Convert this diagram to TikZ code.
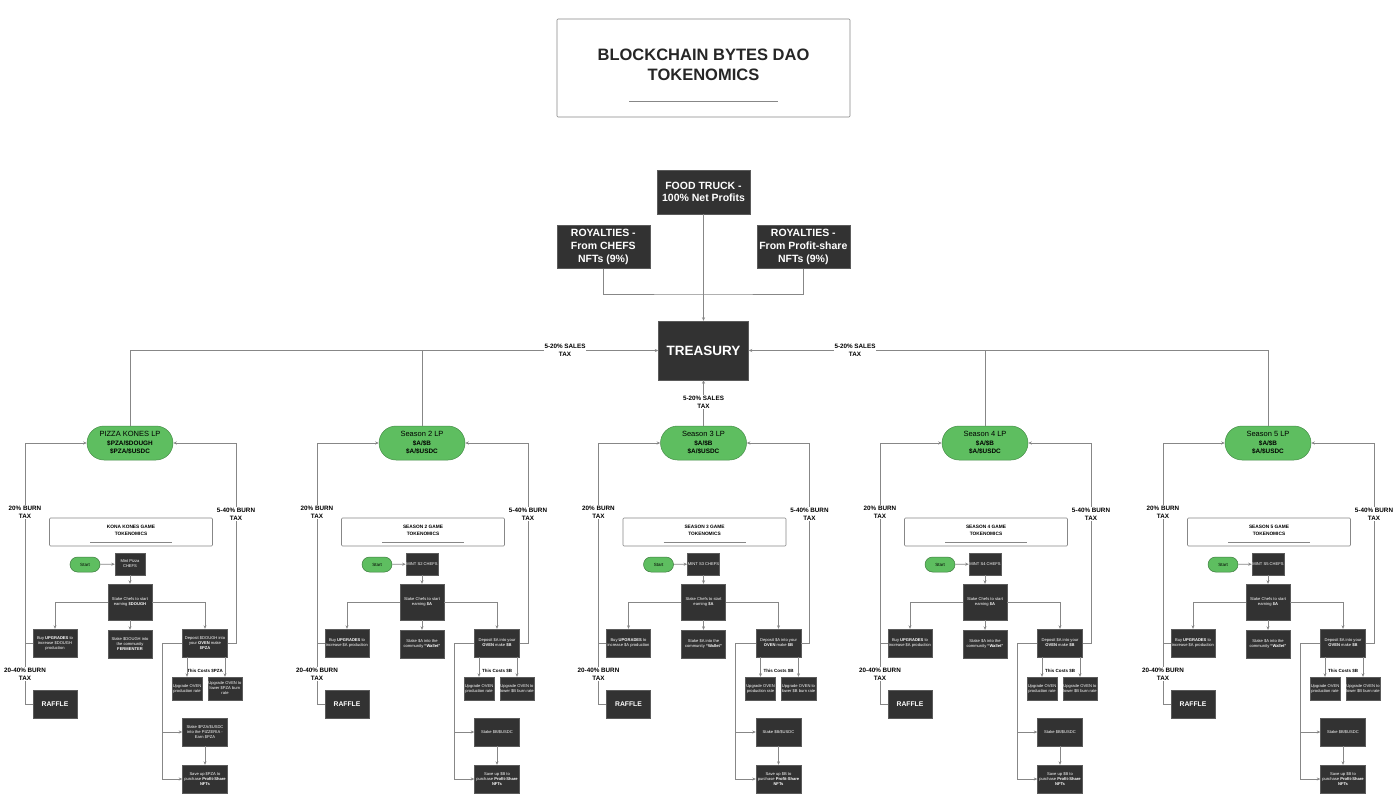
\documentclass[tikz,border=0pt]{standalone}
\usepackage{fontspec}
\setmainfont{Liberation Sans}
\usetikzlibrary{arrows.meta}
\definecolor{boxc}{RGB}{50,50,50}
\definecolor{greenc}{RGB}{94,190,96}
\definecolor{linec}{RGB}{135,135,135}
\newcommand\drawcol[2]{%
  \node[lp] (lp#2) at (#1,443) {\tLP};
  \node[gamebox] (game#2) at (#1+1,532) {\tGame};
  \draw[linec, line width=0.6pt] (#1-40,542) -- (#1+42,542);
  \node[startn] (start#2) at (#1-45,564.5) {Start};
  \node[dark, minimum width=30pt, minimum height=22pt] (mint#2) at (#1,564) {\tMint};
  \node[dark, minimum width=44pt, minimum height=36pt] (stake#2) at (#1,602) {\tStake};
  \node[dark, minimum width=44pt, minimum height=28pt] (buy#2) at (#1-75,643) {\tBuy};
  \node[dark, minimum width=44pt, minimum height=28pt] (stakeb#2) at (#1,644) {\tStakeB};
  \node[dark, minimum width=45pt, minimum height=28pt] (dep#2) at (#1+75,643) {\tDep};
  \node[costlbl] (cost#2) at (#1+75,671) {\tCost};
  \node[dark, minimum width=30pt, minimum height=23pt] (upa#2) at (#1+57,688.5) {\tUpA};
  \node[dark, minimum width=29pt, minimum height=23pt] (upb#2) at (#1+95,688.5) {\tUpB};
  \node[dark, font=\fontsize{6.8}{8}\selectfont\bfseries, minimum width=44pt, minimum height=28pt] (raffle#2) at (#1-75,704) {RAFFLE};
  \node[dark, minimum width=45pt, minimum height=28pt] (stakelp#2) at (#1+75,732) {\tStakeLP};
  \node[dark, minimum width=45pt, minimum height=28pt] (save#2) at (#1+75,779) {\tSave};
  \coordinate (br#2) at (#1+32,732);
  % connectors
  \draw[arr] (start#2) -- (mint#2);
  \draw[arr] (mint#2.south) -- (stake#2.north);
  \draw[arr] (stake#2.west) -| (buy#2.north);
  \draw[arr] (stake#2.east) -| (dep#2.north);
  \draw[arr] (stake#2.south) -- (stakeb#2.north);
  \draw[arr] (upa#2.north |- dep#2.south) -- (upa#2.north);
  \draw[arr] (upb#2.north |- dep#2.south) -- (upb#2.north);
  \draw[arr] (dep#2.west) -- (#1+32,643) |- (save#2.west);
  \draw[arr] (br#2) -- (stakelp#2.west);
  \draw[arr] (stakelp#2.south) -- (save#2.north);
  \draw[arr] (buy#2.west) -- (#1-105,643) -- (#1-105,443) -- (lp#2.west);
  \draw[conn] (raffle#2.west) -- (#1-105,704) -- (#1-105,643);
  \draw[arr] (dep#2.east) -- (#1+106,643) -- (#1+106,443) -- (lp#2.east);
  \node[lbl] (bl#2) at (#1-105,512) {20\% BURN\\TAX};
  \node[lbl] (bm#2) at (#1-105,674) {20-40\% BURN\\TAX};
  \node[lbl] (br#2l) at (#1+106,514) {5-40\% BURN\\TAX};
}
\newcommand\seasoncol[2]{%
  \def\tLP{Season #2 LP\\{\fontsize{6.4}{8.5}\selectfont\bfseries \$A/\$B}\\{\fontsize{6.4}{8.5}\selectfont\bfseries \$A/\$USDC}}%
  \def\tGame{SEASON #2 GAME\\TOKENOMICS}%
  \def\tMint{MINT S#2 CHEFS}%
  \def\tStake{Stake Chefs to start\\earning \textbf{\$A}}%
  \def\tBuy{Buy \textbf{UPGRADES} to\\increase \$A production}%
  \def\tStakeB{Stake \$A into the\\community \textbf{``Wallet''}}%
  \def\tDep{Deposit \$A into your\\\textbf{OVEN} make \textbf{\$B}}%
  \def\tCost{This Costs \$B}%
  \def\tUpA{Upgrade OVEN\\production rate}%
  \def\tUpB{Upgrade OVEN to\\lower \$B burn rate}%
  \def\tStakeLP{Stake \$B/\$USDC}%
  \def\tSave{Save up \$B to\\purchase \textbf{Profit-Share}\\\textbf{NFTs}}%
  \drawcol{#1}{#2}%
}
\begin{document}
\begin{tikzpicture}[x=1pt,y=-1pt,
  conn/.style={draw=linec, line width=0.8pt},
  arr/.style={conn, -{Stealth[length=3.5pt,width=3pt]}},
  dark/.style={fill=boxc, draw=boxc!80!white, text=white, align=center, inner sep=0.5pt,
    font=\fontsize{4.1}{5}\selectfont},
  bigdark/.style={dark, font=\fontsize{10.5}{12.7}\selectfont\bfseries},
  lp/.style={fill=greenc, draw=greenc!75!black, line width=0.5pt, rounded corners=17pt,
    minimum width=86pt, minimum height=34pt, align=center, inner sep=0pt,
    font=\fontsize{7.5}{8.5}\selectfont},
  startn/.style={fill=greenc, draw=greenc!65!black, line width=0.5pt, rounded corners=7.5pt,
    minimum width=30pt, minimum height=15pt, inner sep=0pt, font=\fontsize{4.5}{5}\selectfont},
  gamebox/.style={draw=linec, line width=0.6pt, rounded corners=1pt, fill=white,
    minimum width=163pt, minimum height=28pt, align=center, inner sep=0pt,
    text depth=3pt, font=\fontsize{4.8}{7}\selectfont\bfseries},
  costlbl/.style={inner sep=0.5pt, font=\fontsize{4.5}{5}\selectfont\bfseries},
  lbl/.style={fill=white, inner sep=0.8pt, align=center, font=\fontsize{6.3}{7.6}\selectfont\bfseries}
]
\fill[white] (0,0) rectangle (1400,803);
\useasboundingbox (0,0) rectangle (1400,803);

% title
\node[draw=linec, line width=0.6pt, rounded corners=1pt, minimum width=293pt, minimum height=98pt] (titlebox) at (703.5,68) {};
\node[align=center, font=\fontsize{16.5}{20.5}\selectfont\bfseries, text=black!85] (title) at (703.5,65) {BLOCKCHAIN BYTES DAO\\TOKENOMICS};
\draw[linec, line width=0.7pt] (629,101.5) -- (778,101.5);

% top boxes
\node[bigdark, minimum width=93pt, minimum height=44pt] (food) at (703.5,192) {FOOD TRUCK -\\100\% Net Profits};
\node[bigdark, minimum width=93pt, minimum height=43pt] (royl) at (603.3,247) {ROYALTIES -\\From CHEFS\\NFTs (9\%)};
\node[bigdark, minimum width=93pt, minimum height=43pt] (royr) at (803.3,247) {ROYALTIES -\\From Profit-share\\NFTs (9\%)};
\node[dark, font=\fontsize{13.5}{16}\selectfont\bfseries, minimum width=90pt, minimum height=59pt] (treasury) at (703.5,350.5) {TREASURY};

\coordinate (rj) at (703.5,294);
\draw[conn] (royl.south) |- (rj) -| (royr.south);
\draw[arr] (food.south) -- (treasury.north);

% Kona column
\def\tLP{PIZZA KONES LP\\{\fontsize{6.4}{8.5}\selectfont\bfseries \$PZA/\$DOUGH}\\{\fontsize{6.4}{8.5}\selectfont\bfseries \$PZA/\$USDC}}
\def\tGame{KONA KONES GAME\\TOKENOMICS}
\def\tMint{Mint Pizza\\CHEFS}
\def\tStake{Stake Chefs to start\\earning \textbf{\$DOUGH}}
\def\tBuy{Buy \textbf{UPGRADES} to\\increase \$DOUGH\\production}
\def\tStakeB{Stake \$DOUGH into\\the community\\\textbf{FERMENTER}}
\def\tDep{Deposit \$DOUGH into\\your \textbf{OVEN} make\\\textbf{\$PZA}}
\def\tCost{This Costs \$PZA}
\def\tUpA{Upgrade OVEN\\production rate}
\def\tUpB{Upgrade OVEN to\\lower \$PZA burn\\rate}
\def\tStakeLP{Stake \$PZA/\$USDC\\into the PIZZERIA -\\Earn \$PZA}
\def\tSave{Save up \$PZA to\\purchase \textbf{Profit-Share}\\\textbf{NFTs}}
\drawcol{130}{k}

\seasoncol{422}{2}
\seasoncol{703.5}{3}
\seasoncol{985}{4}
\seasoncol{1268}{5}

% LP -> treasury
\draw[arr] (lpk.north) |- (treasury.west);
\draw[conn] (lp2.north) -- (lp2.north |- treasury.west);
\draw[arr] (lp5.north) |- (treasury.east);
\draw[conn] (lp4.north) -- (lp4.north |- treasury.east);
\draw[arr] (lp3.north) -- (treasury.south);
\node[lbl] (sl) at (565,350) {5-20\% SALES\\TAX};
\node[lbl] (sr) at (855,350) {5-20\% SALES\\TAX};
\node[lbl] (sc) at (703.5,402) {5-20\% SALES\\TAX};
\end{tikzpicture}
\end{document}
